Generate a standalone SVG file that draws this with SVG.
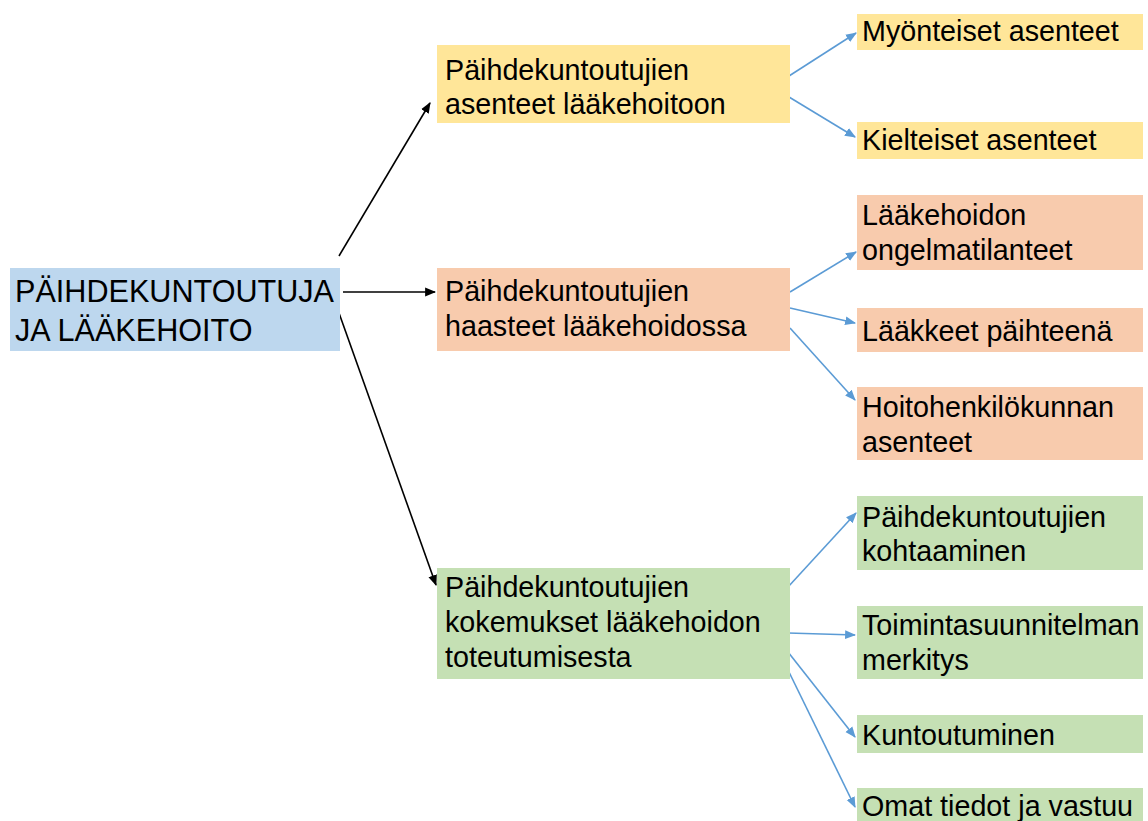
<svg xmlns="http://www.w3.org/2000/svg" width="1148" height="821" viewBox="0 0 1148 821">
<defs>
<style>
text{font-family:"Liberation Sans",Arial,sans-serif;fill:#000;}
.t{font-size:28.7px;}
.r{font-size:30.6px;}
.y{fill:#FFE699;}
.o{fill:#F8CBAD;}
.g{fill:#C5E0B4;}
.b{fill:#BDD7EE;}
.k{stroke:#000;stroke-width:1.6;fill:none;}
.bl{stroke:#5B9BD5;stroke-width:1.6;fill:none;}
</style>
<marker id="ab" viewBox="0 0 10 10" refX="9" refY="5" markerWidth="11" markerHeight="11" orient="auto" markerUnits="userSpaceOnUse"><path d="M0,1L10,5L0,9z" fill="#5B9BD5"/></marker>
<marker id="ak2" viewBox="0 0 10 10" refX="9" refY="5" markerWidth="11" markerHeight="11" orient="auto" markerUnits="userSpaceOnUse"><path d="M0,1L10,5L0,9z" fill="#000"/></marker>
</defs>
<rect width="1148" height="821" fill="#fff"/>
<g id="connectors">
<line class="k" x1="339" y1="256" x2="430" y2="103" marker-end="url(#ak2)"/>
<line class="k" x1="343" y1="292" x2="435" y2="292" marker-end="url(#ak2)"/>
<line class="k" x1="339" y1="313" x2="436" y2="585" marker-end="url(#ak2)"/>
<line class="bl" x1="789" y1="76" x2="856" y2="33" marker-end="url(#ab)"/>
<line class="bl" x1="789" y1="97" x2="855" y2="137" marker-end="url(#ab)"/>
<line class="bl" x1="790" y1="292" x2="856" y2="252" marker-end="url(#ab)"/>
<line class="bl" x1="790" y1="308" x2="855" y2="323" marker-end="url(#ab)"/>
<line class="bl" x1="790" y1="328" x2="855" y2="400" marker-end="url(#ab)"/>
<line class="bl" x1="788" y1="587" x2="856" y2="513" marker-end="url(#ab)"/>
<line class="bl" x1="788" y1="633" x2="855" y2="635" marker-end="url(#ab)"/>
<line class="bl" x1="788" y1="652" x2="855" y2="737" marker-end="url(#ab)"/>
<line class="bl" x1="788" y1="670" x2="855" y2="807" marker-end="url(#ab)"/>
</g>
<g id="root">
<rect class="b" x="10" y="268" width="330" height="83"/>
<text class="r" x="15" y="302">PÄIHDEKUNTOUTUJA</text>
<text class="r" x="15" y="341">JA LÄÄKEHOITO</text>
</g>
<g id="n-asenteet">
<rect class="y" x="437" y="45" width="353" height="78"/>
<text class="t" x="445" y="80">Päihdekuntoutujien</text>
<text class="t" x="445" y="114">asenteet lääkehoitoon</text>
</g>
<g id="n-haasteet">
<rect class="o" x="437" y="268" width="353" height="83"/>
<text class="t" x="445" y="301">Päihdekuntoutujien</text>
<text class="t" x="445" y="336">haasteet lääkehoidossa</text>
</g>
<g id="n-kokemukset">
<rect class="g" x="437" y="568" width="353" height="111"/>
<text class="t" x="445" y="597">Päihdekuntoutujien</text>
<text class="t" x="445" y="632">kokemukset lääkehoidon</text>
<text class="t" x="445" y="667">toteutumisesta</text>
</g>
<g id="n-myonteiset">
<rect class="y" x="857" y="14" width="286" height="36"/>
<text class="t" x="862" y="41">Myönteiset asenteet</text>
</g>
<g id="n-kielteiset">
<rect class="y" x="857" y="122" width="286" height="37"/>
<text class="t" x="862" y="150">Kielteiset asenteet</text>
</g>
<g id="n-ongelma">
<rect class="o" x="857" y="195" width="286" height="75"/>
<text class="t" x="862" y="225">Lääkehoidon</text>
<text class="t" x="862" y="260">ongelmatilanteet</text>
</g>
<g id="n-paihteena">
<rect class="o" x="857" y="308" width="286" height="44"/>
<text class="t" x="862" y="341">Lääkkeet päihteenä</text>
</g>
<g id="n-hoito">
<rect class="o" x="857" y="387" width="286" height="73"/>
<text class="t" x="862" y="417">Hoitohenkilökunnan</text>
<text class="t" x="862" y="452">asenteet</text>
</g>
<g id="n-kohtaaminen">
<rect class="g" x="857" y="496" width="286" height="74"/>
<text class="t" x="862" y="527">Päihdekuntoutujien</text>
<text class="t" x="862" y="561">kohtaaminen</text>
</g>
<g id="n-toiminta">
<rect class="g" x="857" y="606" width="286" height="73"/>
<text class="t" x="862" y="635">Toimintasuunnitelman</text>
<text class="t" x="862" y="670">merkitys</text>
</g>
<g id="n-kuntoutuminen">
<rect class="g" x="857" y="715" width="286" height="38"/>
<text class="t" x="862" y="745">Kuntoutuminen</text>
</g>
<g id="n-omat">
<rect class="g" x="857" y="788" width="286" height="40"/>
<text class="t" x="862" y="816">Omat tiedot ja vastuu</text>
</g>
</svg>
